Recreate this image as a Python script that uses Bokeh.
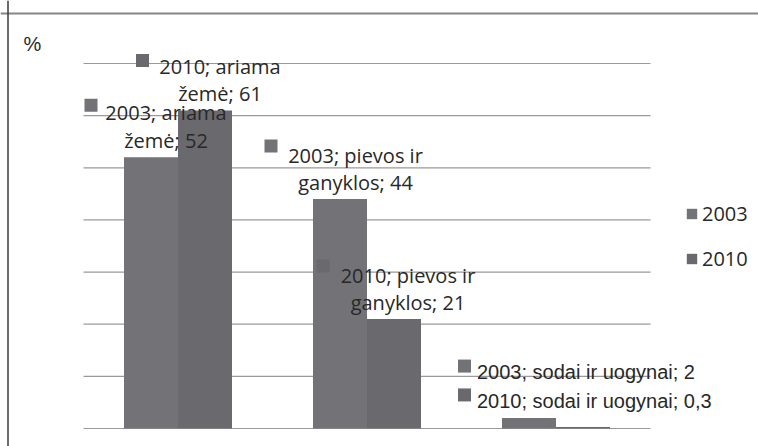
import numpy as np
from bokeh.plotting import figure
from bokeh.models import ColumnDataSource, Range1d, Span, Legend, LegendItem
from bokeh.core.properties import value
from bokeh.embed import file_html
from bokeh.resources import INLINE

# ---- data ----
categories = ["ariama žemė", "pievos ir ganyklos", "sodai ir uogynai"]
years = ["2003", "2010"]
values_2003 = [52, 44, 2]
values_2010 = [61, 21, 0.3]
y_ticks = [0, 10, 20, 30, 40, 50, 60, 70]
unit_label = "%"
wrap_words = [1, 2, 0]  # words of the category on the first label line (0 = single line)

# ---- layout constants ----
W, H = 758, 446
PX_X = 189.0          # px per category
PX_Y = 365.0 / 70.0   # px per percent
X0 = 83.0             # canvas px from left edge to category start
Y0 = 428.0            # canvas px from top edge to value 0
BAR_W = 0.2857
colors = ["#737377", "#6a6a6e"]
TEXT_C = "#282828"
GRID_C = "#9a9a9a"

# per-label offsets in px (text anchor dx, line baselines dy, square centre dx/dy)
label_layout = {
    (0, 0): dict(tdx=15, dy1=-45, dy2=-17, sdx=-60, sdy=-52),
    (0, 1): dict(tdx=15.5, dy1=-44, dy2=-17, sdx=-69, sdy=-53),
    (0, 2): dict(tdx=-52, dy1=-46, sdx=-64.5, sdy=-52),
    (1, 0): dict(tdx=15, dy1=-44, dy2=-17, sdx=-62.5, sdy=-50),
    (1, 1): dict(tdx=14, dy1=-44, dy2=-17, sdx=-71, sdy=-53),
    (1, 2): dict(tdx=-106, dy1=-26, sdx=-118.5, sdy=-32),
}

x_range = Range1d(-X0 / PX_X, (W - X0) / PX_X)
y_range = Range1d(-(H - Y0) / PX_Y, Y0 / PX_Y)

p = figure(width=W, height=H, x_range=x_range, y_range=y_range,
           x_axis_location=None, y_axis_location=None,
           output_backend="svg", toolbar_location=None, min_border=0)
p.grid.visible = False
p.outline_line_color = None
p.background_fill_color = "white"
p.border_fill_color = "white"

n = len(categories)
idx = np.arange(n)
xs = [idx + 0.5 - BAR_W / 2, idx + 0.5 + BAR_W / 2]
series_vals = [values_2003, values_2010]

# gridlines
p.segment(x0=[0] * len(y_ticks), x1=[n] * len(y_ticks), y0=y_ticks, y1=y_ticks,
          line_color=GRID_C, line_width=1.2)

# bars
renderers = []
for s in range(2):
    src = ColumnDataSource(dict(x=xs[s], top=series_vals[s], cat=categories))
    r = p.vbar(x="x", top="top", width=BAR_W, bottom=0, source=src,
               fill_color=colors[s], line_color=None)
    renderers.append(r)

def fmt(v):
    return f"{v:g}".replace(".", ",")

# data labels
c_x, c_y, c_t = [], [], []
l_x, l_y, l_t = [], [], []
sq_x, sq_y, sq_c = [], [], []
for s in range(2):
    for i, cat in enumerate(categories):
        v = series_vals[s][i]
        bx = xs[s][i]
        lay = label_layout[(s, i)]
        words = cat.split(" ")
        k = wrap_words[i]
        sq_x.append(bx + lay["sdx"] / PX_X)
        sq_y.append(v - lay["sdy"] / PX_Y)
        sq_c.append(colors[s])
        if k:
            line1 = f"{years[s]}; " + " ".join(words[:k])
            line2 = " ".join(words[k:]) + f"; {fmt(v)}"
            c_x += [bx + lay["tdx"] / PX_X] * 2
            c_y += [v - lay["dy1"] / PX_Y, v - lay["dy2"] / PX_Y]
            c_t += [line1, line2]
        else:
            l_x.append(bx + lay["tdx"] / PX_X)
            l_y.append(v - lay["dy1"] / PX_Y)
            l_t.append(f"{years[s]}; {cat}; {fmt(v)}")

p.scatter(x=sq_x, y=sq_y, marker="square", size=13, fill_color=sq_c, line_color=None)
p.text(x=c_x, y=c_y, text=c_t, text_align="center", text_baseline="alphabetic",
       text_font=value("Open Sans"), text_font_size="20px", text_color=TEXT_C)
p.text(x=l_x, y=l_y, text=l_t, text_align="left", text_baseline="alphabetic",
       text_font=value("Arial"), text_font_size="20px", text_color=TEXT_C)

# unit label
p.text(x=[(23 - X0) / PX_X], y=[(Y0 - 43) / PX_Y], text=[unit_label],
       text_align="left", text_baseline="alphabetic",
       text_font=value("Arial"), text_font_size="20px", text_color=TEXT_C)

# chart border (top + left)
p.add_layout(Span(location=(Y0 - 13) / PX_Y, dimension="width",
                  line_color="#858585", line_width=2))
p.add_layout(Span(location=(7.5 - X0) / PX_X, dimension="height",
                  line_color="#3a3a3a", line_width=1.5))

legend = Legend(items=[LegendItem(label=years[s], renderers=[renderers[s]]) for s in range(2)],
                location=(685, 174.5), orientation="vertical",
                glyph_width=13, glyph_height=13, label_standoff=4, spacing=18,
                padding=0, margin=0, border_line_color=None, background_fill_alpha=0,
                label_text_font="Open Sans", label_text_font_size="20px",
                label_text_color=TEXT_C, label_height=24)
p.add_layout(legend)

open("out.html", "w").write(file_html(p, INLINE))
